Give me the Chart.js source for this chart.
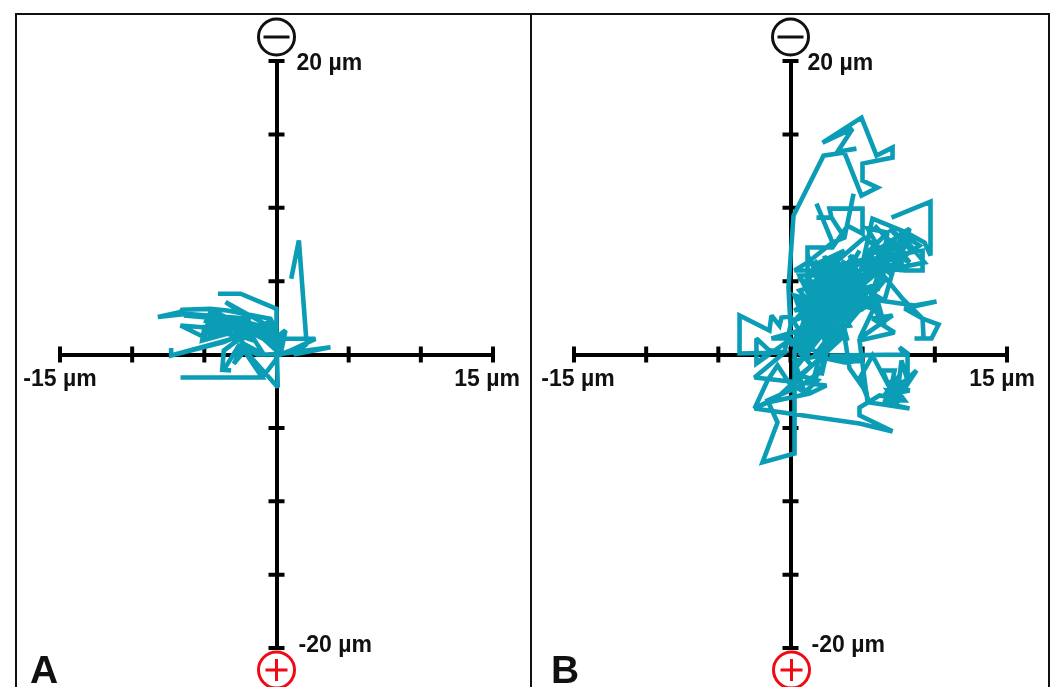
<!DOCTYPE html>
<html>
<head>
<meta charset="utf-8">
<title>Electrotaxis traces</title>
<script src="https://cdn.jsdelivr.net/npm/chart.js@4"></script>
<style>
  html, body { margin: 0; padding: 0; background: #fff; overflow: hidden; }
  #page { position: relative; width: 1053px; height: 687px; overflow: hidden; }
  #page canvas { position: absolute; top: 0; }
  #chartA { left: 0; }
  #chartB { left: 530px; }
  #frame { position: absolute; left: 15px; top: 13px; width: 1031px; height: 720px; border: 2px solid #111; }
  #divider { position: absolute; left: 530px; top: 13px; width: 2px; height: 720px; background: #111; }
</style>
</head>
<body>
<div id="page">
  <canvas id="chartA" width="530" height="687"></canvas>
  <canvas id="chartB" width="523" height="687"></canvas>
  <div id="frame"></div>
  <div id="divider"></div>
</div>
<script>
// axis ranges, in µm
const xRange = [-15, 15];
const yRange = [-20, 20];
const tickStep = 5;
const xEndLabels = ["-15 µm", "15 µm"];
const yEndLabels = ["20 µm", "-20 µm"];
const panelNames = ["A", "B"];

// panel A trace (µm)
const traceAX = [1.02, 1.55, 2.06, 0.51, 2.70, 0.74, 0, 3.74, 1.20, 2.12, 0.28, 0.62, 0, 0.09, -2.49, -0.99,
  -6.65, -0.99, 0, 0, -2.49, -4.06, -2.49, 0, 0, -3.53, -1.80, -6.30, -8.22, -6.65, -6.54, -4.57,
  -3.42, -0.42, 0, -2.49, -6.42, -3.65, -1.80, -5.15, -6.65, -4.80, -3.65, -1.57, 0, -1.34, -5.03, -5.15,
  -3.42, -2.49, -2.96, -4.57, -4.92, -2.49, 0,
  0.51, 0, -0.65, 0, -0.88, 0.28, -1.34, 0, -1.80, -0.30, -4.80, -1.57, -5.03, -2.49, -4.57, -2.49,
  -3.65, -1.57, -2.96, -2.03, -2.96, -2.26, -0.88,
  -1.80, -7.30, -7.30, -7.30, -3.65, -1.80, -3.65, -3.76, -3.14,
  -3.65, -2.61, -1.34, 0];
const traceAY = [5.16, 7.77, 1.07, 1.07, 1.07, 0.16, 0, 0.50, 0, 0.73, 0, 1.64, 1.18, -2.23, 0.61, -1.57,
  -1.57, -1.57, -0.30, 3.11, 4.14, 4.14, 4.14, 3.11, 1.64, 3.57, 2.43, 2.77, 2.55, 2.89, 3.05, 3.11,
  3.00, 2.43, 1.64, 2.32, 2.66, 2.50, 2.43, 1.86, 1.98, 1.07, 1.64, 1.64, 0.73, 1.86, 1.64, 0.95,
  1.41, 1.18, 2.32, 3.00, 1.41, 1.86, 0.61,
  1.41, 0.73, 2.32, 1.18, 1.64, 0.50, 1.64, 0.27, 1.86, 1.41, 1.86, 1.86, 2.32, 1.64, 3.00, 2.09,
  2.50, 0.95, 1.41, 0.50, -0.64, 0.73, 0,
  1.41, -0.07, 0.45, -0.07, 0.84, 1.64, 0.27, -1.05, -1.09,
  -1.05, 0.61, 0, 0];

// panel B trace (µm)
const traceBX = [4.57, 3.26, 4.30, 2.22, 4.92, 5.96, 7.07, 7.07, 4.99, 4.99, 6.03, 4.92, 3.74, 2.29, 0.21, -0.14,
  0, -0.42, -3.53, -3.53, -1.46, -1.32, -0.76, -0.62, 0, 0.62, -1.32, 0.07, -2.36, -2.36, -1.32, -2.36,
  -1.32, -0.42, -2.49, 2.49, 1.32, -1.59, -2.49, -1.59, -0.90, -0.07, 1.11, 2.22, 2.22, 1.66, 0.76, -1.59,
  -0.90, -1.94, 0.28, 0.28, 0.62, 2.43, 3.74, 4.99, 2.70, 7.90, 7.55, 8.11, 8.11, 7.69, 7.35, 8.73,
  6.86, 7.21, 6.38, 6.86, 5.68, 4.78, 5.47, 8.25, 6.65, 8.04, 7.21, 8.25, 6.51, 7.55, 7.07, 7.90,
  6.86, 7.42,
  6.72, 7.76, 6.51, 7.00, 7.35,
  6.17, 4.78, 4.78, 7.07, 4.78, -2.49, -0.76, 3.74, 4.09, 5.27, 5.34, 4.78, 7.21, 5.68,
  7.07, 4.78, 6.03, 6.51, 5.47, 6.17, 7.76, 9.15, 10.26, 9.77, 8.59, 9.22, 9.15, 7.90, 10.12, 8.59,
  6.17, 1.18, 1.18, 2.91, 3.95, 4.99, 4.99, 2.70, 2.84, 1.80, 2.84, 3.74, 4.37, 3.74, 2.91, 1.80,
  2.91, 1.18, 0.28, 1.80, 1.80, 3.12, 5.13, 7.90, 5.61, 6.86, 5.34, 6.72, 6.03, 7.21, 5.82, 7.90,
  5.13, 7.55, 8.25, 6.17, 7.07, 5.34, 7.69, 6.51, 4.09, 6.17, 3.74, 6.17, 2.01, 3.05, 5.47, 2.01,
  4.78, 1.66, 3.74, 1.32, 4.78, 0.62, 4.09, 1.18, 2.36, 2.84, 1.46, 5.47, 0.28, 4.44, 2.70, 5.47,
  0.62, 3.40, 2.01, 0.28, 5.13, 1.32, 4.09, 2.70, 0.97, 3.74, 0.28, 5.82, 1.66, 3.95, 2.36, 3.05,
  0.76, 4.78, 0.49, 3.53, 1.18, 4.44, -0.07, 2.70, 2.15, 3.40, 0.76, 6.17, 1.46, 3.53, 0.83, 5.47,
  2.36, 4.44, 0.28, 3.05, 1.66, 4.09, 0.62, 4.78, 1.87, 6.51, 2.70, 3.95, 1.18,
  0.62, 1.66, 0.97, 2.36, 1.32, 2.70, 0.62, 2.01, 0.49, 1.66, 0.97, 2.70, 1.66, 3.40, 2.36, 4.09,
  3.05, 4.44, 3.40, 4.78, 3.74, 4.92, 4.09, 5.47, 4.44, 2.70, 3.74, 2.01, 3.26, 1.46, 2.36, 1.18,
  1.87, 0.62, 1.46, 0.28, 1.18, 0.28, 1.46, 0.62, 1.87, 0.97, 0.28, 2.15,
  5.47, 6.51, 5.82, 7.21, 6.17, 7.90, 6.86, 8.39, 7.21, 8.94, 7.55, 9.29, 6.51, 5.82, 5.34, 6.72,
  8.25, 7.07,
  7.90, 9.15, 9.15,
  4.99, 7.76, 4.99, 5.68, 8.04, 9.29, 9.70, 9.70, 7.00];
const traceBY = [14.03, 13.82, 15.39, 14.44, 16.14, 13.55, 14.10, 13.42, 13.01, 11.85, 11.37, 10.83, 13.76, 13.55, 9.47, 4.56,
  1.97, 0.14, 0.07, 2.66, 1.63, 2.66, 1.97, 2.52, 2.59, 1.63, 1.09, 1.09, -0.61, 1.09, 0.14, -0.61,
  0.27, 0.14, -1.57, -2.11, -2.66, -3.27, -3.68, -1.77, -0.75, -1.97, -2.66, -0.75, 0.61, -1.43, -2.11, -3.13,
  -4.63, -7.35, -6.74, 0.27, 0.95, -0.27, -0.54, -0.41, -0.07, 0, 0.48, 0.07, -1.77, -0.41, -3.13, -1.09,
  -2.79, -1.09, -1.09, -2.25, -0.07, -1.63, -3.27, -3.68, -3.34, -1.77, -2.11, -2.45, -2.79, -1.43, -3.13, -3.13,
  -1.77, -3.47,
  -2.45, -2.59, -3.27, -2.11, -3.00,
  -2.79, -3.61, -4.15, -5.24, -4.70, -3.68, -2.79, 1.29, -0.95, -2.59, -3.27, 0.95, 1.50, 2.45,
  2.66, 1.09, 3.68, 1.97, 3.68, 5.72, 3.81, 2.45, 2.04, 1.09, 1.09, 1.09, 2.45, 3.13, 3.61, 3.34,
  3.68, 4.56, 7.29, 7.29, 8.78, 8.24, 9.94, 9.94, 9.33, 9.33, 9.33, 7.97, 10.96, 7.97, 7.63, 10.28,
  7.63, 6.27, 5.72, 5.72, 3.68, 6.27, 7.97, 5.72, 7.76, 6.06, 8.58, 8.31, 4.36, 7.76, 6.27, 7.08,
  5.38, 6.27, 8.58, 7.22, 5.38, 6.74, 7.76, 3.68, 5.04, 3.00, 3.68, 5.72, 3.00, 6.06, 6.54, 4.70,
  3.00, 1.63, 6.40, 3.00, 5.72, 0.61, 4.02, 5.72, 0.95, 6.54, 0.61, 4.36, 2.32, 6.74, 2.32, 5.38,
  3.68, 0.95, 5.72, 0.27, 3.68, 1.63, 1.97, 4.36, -0.41, 5.38, 1.29, 4.70, 3.68, 0.95, 6.74, 1.63,
  5.04, 4.70, -0.75, 3.00, 0.95, 6.06, 0.61, 3.34, -1.43, 4.02, 2.32, 6.27, 4.36, 6.95, 2.66, 3.34,
  1.97, 3.68, 3.00, 5.04, 6.40, 3.00, -0.07, 7.08, 2.32, 5.04, 0.61, 4.70, 3.68,
  4.36, 4.70, 3.34, 4.02, 2.32, 3.00, 1.29, 1.97, 0.27, 0.95, 2.32, 1.29, -0.07, 1.97, 3.00, 2.32,
  3.68, 2.86, 4.70, 4.02, 6.06, 5.04, 6.74, 5.86, 4.36, 6.27, 7.08, 6.27, 5.38, 6.27, 4.70, 6.74,
  5.38, 5.38, 3.68, 4.02, 1.63, 0.61, -0.75, -1.43, -1.77, -2.59, -0.41, -0.07,
  7.08, 8.10, 8.78, 7.42, 6.54, 7.76, 8.58, 7.08, 6.27, 7.42, 8.31, 6.27, 5.72, 7.42, 5.72, 7.08,
  6.27, 7.76,
  5.72, 5.72, 7.08,
  6.40, 5.72, 6.20, 9.26, 8.31, 7.63, 6.74, 10.42, 9.33];

const traceColor = "#0a9db5";
const labelFont = "bold 23px 'Liberation Sans', Arial, sans-serif";

// ticks that cross the axis, end labels, the two pole signs and the panel letter
const axisDecor = {
  id: "axisDecor",
  beforeDatasetsDraw(chart, args, opts) {
    const { ctx, scales } = chart;
    const xs = scales.x, ys = scales.y;
    const x0 = xs.getPixelForValue(0), y0 = ys.getPixelForValue(0);

    ctx.save();
    ctx.strokeStyle = "#000";
    ctx.lineWidth = 4;
    ctx.beginPath();
    xs.ticks.forEach((t) => {
      const px = xs.getPixelForValue(t.value);
      ctx.moveTo(px, y0 - 8);
      ctx.lineTo(px, y0 + 8);
    });
    ys.ticks.forEach((t) => {
      const py = ys.getPixelForValue(t.value);
      ctx.moveTo(x0 - 8, py);
      ctx.lineTo(x0 + 8, py);
    });
    ctx.stroke();

    ctx.fillStyle = "#111";
    ctx.font = labelFont;
    ctx.textBaseline = "middle";
    ctx.textAlign = "center";
    ctx.fillText(xEndLabels[0], xs.getPixelForValue(xRange[0]) + opts.xShift[0], y0 + 25);
    ctx.fillText(xEndLabels[1], xs.getPixelForValue(xRange[1]) + opts.xShift[1], y0 + 25);
    ctx.textAlign = "left";
    ctx.fillText(yEndLabels[0], x0 + opts.yShift[0], ys.getPixelForValue(yRange[1]) + 3);
    ctx.fillText(yEndLabels[1], x0 + opts.yShift[1], ys.getPixelForValue(yRange[0]) - 2);

    // minus pole
    ctx.lineWidth = 3;
    ctx.strokeStyle = "#111";
    ctx.beginPath();
    ctx.arc(x0, 37, 18, 0, Math.PI * 2);
    ctx.moveTo(x0 - 13, 37);
    ctx.lineTo(x0 + 13, 37);
    ctx.stroke();

    // plus pole
    ctx.strokeStyle = "#f00a14";
    ctx.beginPath();
    ctx.arc(x0 + opts.plusShift, 670, 18, 0, Math.PI * 2);
    ctx.moveTo(x0 + opts.plusShift - 11, 670);
    ctx.lineTo(x0 + opts.plusShift + 11, 670);
    ctx.moveTo(x0 + opts.plusShift, 659);
    ctx.lineTo(x0 + opts.plusShift, 681);
    ctx.stroke();

    ctx.fillStyle = "#111";
    ctx.font = "bold 39px 'Liberation Sans', Arial, sans-serif";
    ctx.textAlign = "left";
    ctx.textBaseline = "alphabetic";
    ctx.fillText(opts.letter, opts.letterX, 683);
    ctx.restore();

    // keep the sharp corners of the trace from growing long spikes
    ctx.miterLimit = 2.5;
  }
};

function makePanel(id, traceX, traceY, padding, decor) {
  return new Chart(document.getElementById(id), {
    type: "scatter",
    data: {
      datasets: [{
        label: "Trace " + decor.letter,
        data: traceX.map((x, i) => ({ x: x, y: traceY[i] })),
        showLine: true,
        borderColor: traceColor,
        borderWidth: 4.6,
        borderJoinStyle: "miter",
        pointRadius: 0,
        tension: 0,
        clip: false
      }]
    },
    options: {
      responsive: false,
      animation: false,
      layout: { padding: padding },
      plugins: {
        legend: { display: false },
        tooltip: { enabled: false },
        axisDecor: decor
      },
      scales: {
        x: {
          type: "linear",
          min: xRange[0],
          max: xRange[1],
          position: { y: 0 },
          ticks: { stepSize: tickStep, display: false },
          grid: { display: false },
          border: { display: true, color: "#000", width: 4 }
        },
        y: {
          type: "linear",
          min: yRange[0],
          max: yRange[1],
          position: { x: 0 },
          ticks: { stepSize: tickStep, display: false },
          grid: { display: false },
          border: { display: true, color: "#000", width: 4 }
        }
      }
    },
    plugins: [axisDecor]
  });
}

makePanel("chartA", traceAX, traceAY,
  { left: 60, right: 37, top: 61, bottom: 39 },
  { letter: panelNames[0], letterX: 30, xShift: [0, -6], yShift: [20, 22], plusShift: 0 });

makePanel("chartB", traceBX, traceBY,
  { left: 44, right: 46, top: 61, bottom: 39 },
  { letter: panelNames[1], letterX: 21, xShift: [4, -5], yShift: [17, 21], plusShift: 1 });
</script>
</body>
</html>
